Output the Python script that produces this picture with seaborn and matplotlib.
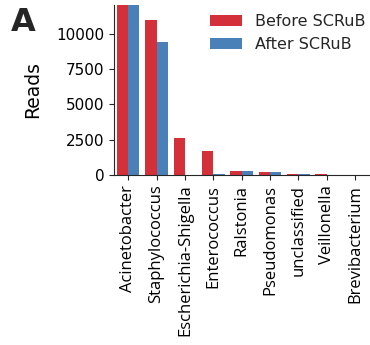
import matplotlib
matplotlib.use("Agg")
import matplotlib.pyplot as plt
import seaborn as sns
import pandas as pd

genera = ["Acinetobacter", "Staphylococcus", "Escherichia-Shigella", "Enterococcus",
          "Ralstonia", "Pseudomonas", "unclassified", "Veillonella", "Brevibacterium"]
before = [14000, 11000, 2600, 1700, 280, 200, 40, 30, 15]
after = [14000, 9400, 10, 80, 280, 180, 30, 20, 10]
series = ["Before SCRuB", "After SCRuB"]

df = pd.DataFrame({
    "genus": genera * 2,
    "reads": before + after,
    "stage": [series[0]] * len(genera) + [series[1]] * len(genera),
})

sns.set_style("ticks")
plt.rcParams["font.family"] = ["DejaVu Sans"]

fig = plt.figure(figsize=(3.7, 3.45), dpi=100)
ax = fig.add_axes([0.308, 0.493, 0.69, 0.493])
sns.barplot(data=df, x="genus", y="reads", hue="stage", hue_order=series,
            palette=["#d3303a", "#4a80b8"], ax=ax, saturation=1, width=0.8,
            linewidth=0)
ax.set_ylim(0, 12050)
ax.set_yticks([0, 2500, 5000, 7500, 10000])
ax.tick_params(axis="y", labelsize=11, labelcolor="black")
ax.tick_params(axis="x", labelcolor="black")
ax.set_xlabel("")
ax.set_ylabel("Reads", fontsize=13.5, labelpad=10, color="black")
ax.set_xticks(range(len(genera)))
ax.set_xticklabels(genera, rotation=90, fontsize=12, family=["Open Sans", "DejaVu Sans"])
sns.despine(ax=ax)
leg = ax.legend(frameon=False, fontsize=11.5, loc="upper right",
                bbox_to_anchor=(1.04, 1.03), handlelength=2.0)
fig.text(0.03, 0.98, "A", fontsize=23, fontweight="bold", va="top", ha="left")
fig.savefig("out.png", dpi=100)
